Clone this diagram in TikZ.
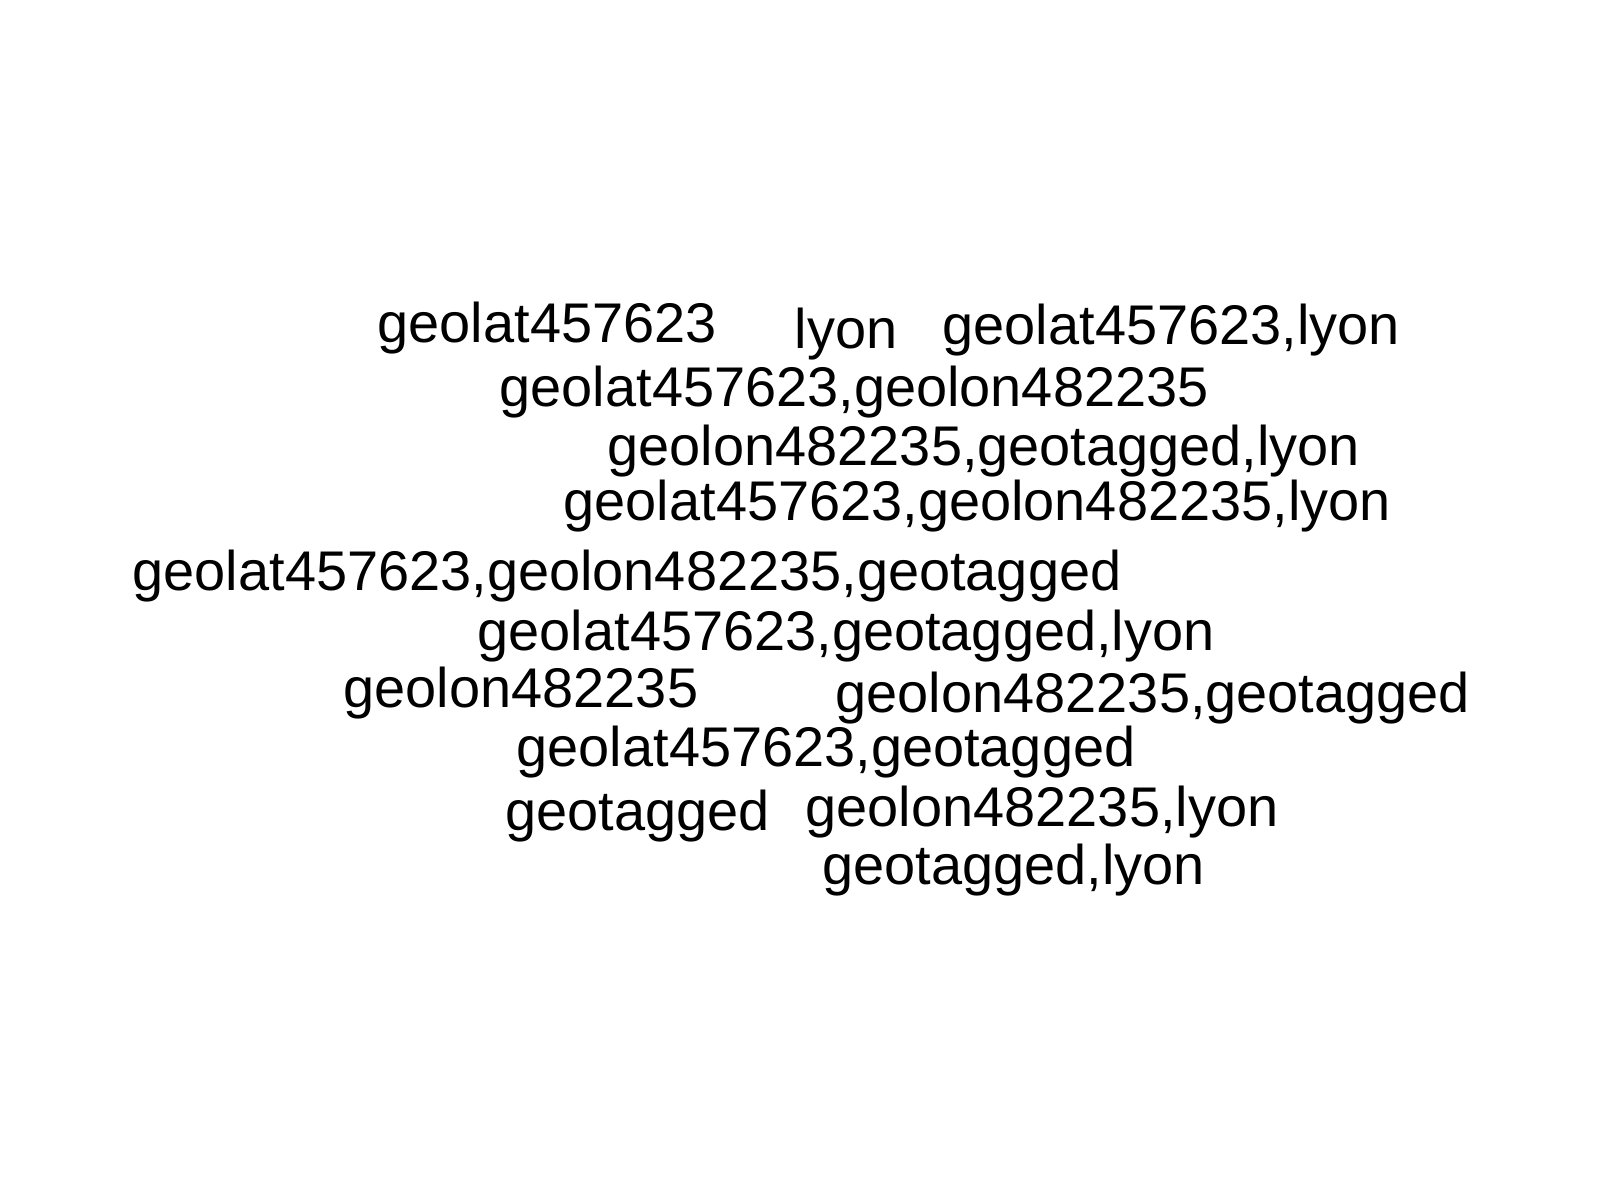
\documentclass[tikz,border=0pt]{standalone}
\usepackage{fontspec}
\setmainfont{Liberation Sans}
\usepackage{tikz}

\begin{document}
\begin{tikzpicture}[
    x=0.01cm, y=-0.01cm,
    every node/.style={font=\fontsize{15.9}{18}\selectfont, inner sep=0pt, anchor=base west},
    tag/.style={text=black}
]
\useasboundingbox (0,0) rectangle (1600,1200);
\node[tag] (lat)          at (377,342) {geolat457623};
\node[tag] (lyon)         at (794,348) {lyon};
\node[tag] (latlyon)      at (942,344) {geolat457623,lyon};
\node[tag] (latlon)       at (499,406) {geolat457623,geolon482235};
\node[tag] (lontaglyon)   at (607,465) {geolon482235,geotagged,lyon};
\node[tag] (latlonlyon)   at (563,520) {geolat457623,geolon482235,lyon};
\node[tag] (latlontag)    at (132,590) {geolat457623,geolon482235,geotagged};
\node[tag] (lattaglyon)   at (477,650) {geolat457623,geotagged,lyon};
\node[tag] (lon)          at (343,707) {geolon482235};
\node[tag] (lontag)       at (835,712) {geolon482235,geotagged};
\node[tag] (lattag)       at (516,766) {geolat457623,geotagged};
\node[tag] (tagged)       at (505,830) {geotagged};
\node[tag] (lonlyon)      at (805,826) {geolon482235,lyon};
\node[tag] (taglyon)      at (822,884) {geotagged,lyon};
\end{tikzpicture}
\end{document}
